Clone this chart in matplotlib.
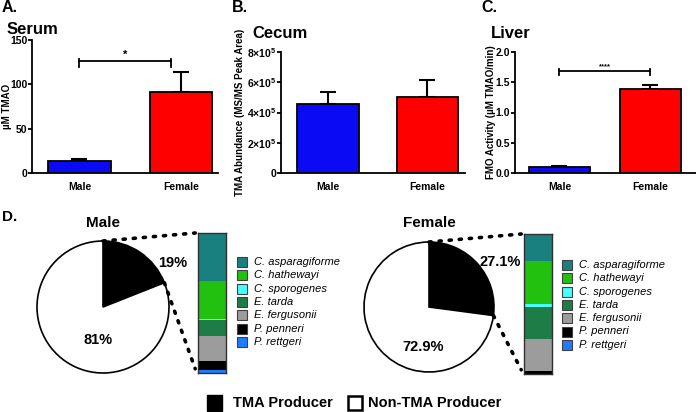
import numpy as np
import matplotlib
matplotlib.use("Agg")
import matplotlib.pyplot as plt
from matplotlib.patches import Rectangle, ConnectionPatch

plt.rcParams['font.family'] = ['Liberation Sans', 'DejaVu Sans']
plt.rcParams['font.weight'] = 'bold'
plt.rcParams['mathtext.fontset'] = 'custom'
plt.rcParams['mathtext.bf'] = 'Liberation Sans:bold'
plt.rcParams['mathtext.rm'] = 'Liberation Sans:bold'

# ---------------- data ----------------
groups = ["Male", "Female"]
serum_vals = [14, 92]
serum_err = [2, 22]
serum_ticks = [0, 50, 100, 150]
cecum_vals = [4.58e5, 5.0e5]
cecum_err = [0.8e5, 1.15e5]
cecum_ticks = [0, 2e5, 4e5, 6e5, 8e5]
cecum_ticklabels = ["0", r"$\mathbf{2{\times}10^{5}}$", r"$\mathbf{4{\times}10^{5}}$",
                    r"$\mathbf{6{\times}10^{5}}$", r"$\mathbf{8{\times}10^{5}}$"]
liver_vals = [0.10, 1.38]
liver_err = [0.015, 0.08]
liver_ticks = [0.0, 0.5, 1.0, 1.5, 2.0]
liver_ticklabels = ["0.0", "0.5", "1.0", "1.5", "2.0"]

species = ["C. asparagiforme", "C. hathewayi", "C. sporogenes", "E. tarda",
           "E. fergusonii", "P. penneri", "P. rettgeri"]
species_colors = ["#1a7f7f", "#22c10f", "#45ffff", "#1e7d46", "#9c9c9c", "#000000", "#1f7cff"]
male_species_pct = [34.5, 27.0, 0.7, 11.3, 17.6, 7.0, 1.9]
female_species_pct = [19.3, 30.8, 1.7, 22.9, 23.1, 2.0, 0.2]
male_producer = [19, 81]
female_producer = [27.1, 72.9]
male_labels = ["19%", "81%"]
female_labels = ["27.1%", "72.9%"]

bar_colors = ["#0a0af5", "#ff0000"]

W, H = 696, 412
fig = plt.figure(figsize=(W / 100, H / 100), dpi=100)


def box(l, t, r, b):
    return [l / W, 1 - b / H, (r - l) / W, (b - t) / H]


def bar_panel(rect, vals, errs, ticks, ticklabels, xlim, width, ylabel, label_x, tick_fs=7.5):
    ax = fig.add_axes(rect)
    x = np.arange(len(vals))
    ax.errorbar(x, vals, yerr=[np.zeros(len(errs)), errs], fmt='none', ecolor='black',
                elinewidth=1.5, capsize=5.5, capthick=1.5, zorder=1)
    ax.bar(x, vals, width=width, color=bar_colors, edgecolor='black', linewidth=1.3, zorder=2)
    ax.set_xlim(*xlim)
    ax.set_ylim(ticks[0], ticks[-1])
    ax.set_yticks(ticks)
    ax.set_yticklabels(ticklabels, fontsize=tick_fs, fontweight='bold')
    ax.set_xticks(x)
    ax.set_xticklabels(groups, fontsize=7.5, fontweight='bold')
    ax.tick_params(axis='x', length=0, pad=6)
    ax.tick_params(axis='y', length=3, width=1.3, pad=0.5)
    for s in ['top', 'right']:
        ax.spines[s].set_visible(False)
    for s in ['left', 'bottom']:
        ax.spines[s].set_linewidth(1.3)
    ax.set_ylabel(ylabel, fontsize=7, fontweight='bold', va='center')
    ax.yaxis.set_label_coords(label_x, 0.5)
    return ax


# Panel A
axA = bar_panel(box(32, 40, 218, 173.3), serum_vals, serum_err, serum_ticks,
                [str(t) for t in serum_ticks], (-0.468, 1.365), 0.62, "µM TMAO",
                (7 - 32) / 186)
axA.plot([0, 0.9], [126, 126], color='black', lw=1.3, clip_on=False)
for xx in [0, 0.9]:
    axA.plot([xx, xx], [120, 129], color='black', lw=1.3, clip_on=False)
axA.text(0.45, 128, "*", ha='center', va='bottom', fontsize=8, fontweight='bold')

# Panel B
axB = bar_panel(box(281, 51.7, 465, 173.3), cecum_vals, cecum_err, cecum_ticks,
                cecum_ticklabels, (-0.472, 1.377), 0.62,
                "TMA Abundance (MS/MS Peak Area)", (240 - 281) / 184, tick_fs=7.5)

# Panel C
axC = bar_panel(box(515, 51.7, 696, 173.3), liver_vals, liver_err, liver_ticks,
                liver_ticklabels, (-0.489, 1.5), 0.67,
                "FMO Activity (µM TMAO/min)", (491 - 515) / 181)
axC.plot([0, 0.99], [1.68, 1.68], color='black', lw=1.3, clip_on=False)
for xx in [0, 0.99]:
    axC.plot([xx, xx], [1.62, 1.71], color='black', lw=1.3, clip_on=False)
axC.text(0.495, 1.69, "****", ha='center', va='bottom', fontsize=5.5, fontweight='bold')

# Panel letters and titles
fig.text(2 / W, 1 - 8 / H, "A.", fontsize=11.5, fontweight='bold', va='center')
fig.text(232 / W, 1 - 8 / H, "B.", fontsize=11.5, fontweight='bold', va='center')
fig.text(481 / W, 1 - 8 / H, "C.", fontsize=11.5, fontweight='bold', va='center')
fig.text(2 / W, 1 - 217 / H, "D.", fontsize=11, fontweight='bold', va='center')
fig.text(7 / W, 1 - 29 / H, "Serum", fontsize=12, fontweight='bold', va='center')
fig.text(252 / W, 1 - 33 / H, "Cecum", fontsize=12, fontweight='bold', va='center')
fig.text(491 / W, 1 - 33 / H, "Liver", fontsize=12, fontweight='bold', va='center')


def pie_panel(cx, cy, r, fracs, labels, label_pos, title, bar_rect, pct, leg_x, leg_y0):
    k = 1.05
    axp = fig.add_axes(box(cx - r * k, cy - r * k, cx + r * k, cy + r * k))
    wedges, _ = axp.pie(fracs, colors=['black', 'white'], startangle=90, counterclock=False,
                        wedgeprops=dict(edgecolor='black', linewidth=1.2))
    axp.set_xlim(-k, k)
    axp.set_ylim(-k, k)
    axp.set_aspect('equal')
    axp.axis('off')
    for lab, (px, py) in zip(labels, label_pos):
        axp.text(px, py, lab, ha='center', va='center', fontsize=10.5, fontweight='bold')
    fig.text(cx / W, 1 - 223 / H, title, ha='center', va='center', fontsize=11, fontweight='bold')

    axb = fig.add_axes(box(*bar_rect))
    total = sum(pct)
    cum = 0
    for v, c in zip(pct, species_colors):
        axb.bar(0, v, bottom=cum, width=1, color=c, linewidth=0)
        cum += v
    axb.set_xlim(-0.5, 0.5)
    axb.set_ylim(total, 0)
    axb.set_xticks([])
    axb.set_yticks([])
    for s in axb.spines.values():
        s.set_linewidth(1.0)
        s.set_color('#303030')

    ang = np.deg2rad(90 - fracs[0] / sum(fracs) * 360)
    con1 = ConnectionPatch(xyA=(0, 1), coordsA=axp.transData, xyB=(-0.1, 1.0),
                           coordsB=axb.transAxes, linestyle=(0, (0.6, 2.2)), lw=2.6,
                           color='black', capstyle='round')
    con2 = ConnectionPatch(xyA=(np.cos(ang), np.sin(ang)), coordsA=axp.transData,
                           xyB=(-0.1, 0.03), coordsB=axb.transAxes,
                           linestyle=(0, (0.6, 2.2)), lw=2.6, color='black', capstyle='round')
    fig.add_artist(con1)
    fig.add_artist(con2)

    for i, (name, c) in enumerate(zip(species, species_colors)):
        yc = leg_y0 + i * 13.3
        fig.add_artist(Rectangle((leg_x / W, 1 - (yc + 5) / H), 10 / W, 10 / H,
                                 transform=fig.transFigure, facecolor=c,
                                 edgecolor='#404040', linewidth=0.8))
        fig.text((leg_x + 17) / W, 1 - yc / H, name, fontsize=8, fontstyle='italic',
                 fontweight='normal', va='center', ha='left')


pie_panel(103, 307, 66, male_producer, male_labels, [(1.06, 0.67), (-0.08, -0.5)], "Male",
          (198, 233, 226, 373), male_species_pct, 237, 262)
pie_panel(429, 307, 65, female_producer, female_labels, [(1.09, 0.69), (-0.09, -0.62)], "Female",
          (524, 234, 552, 374), female_species_pct, 562, 265)

# bottom legend
fig.add_artist(Rectangle((207 / W, 1 - 411 / H), 15 / W, 16 / H, transform=fig.transFigure,
                         facecolor='black', edgecolor='black', linewidth=1))
fig.text(233 / W, 1 - 403 / H, "TMA Producer", fontsize=10.5, fontweight='bold', va='center')
fig.add_artist(Rectangle((348 / W, 1 - 410 / H), 14 / W, 14 / H, transform=fig.transFigure,
                         facecolor='white', edgecolor='black', linewidth=1.8))
fig.text(368 / W, 1 - 403 / H, "Non-TMA Producer", fontsize=10.5, fontweight='bold', va='center')

fig.savefig("out.png", dpi=100)
